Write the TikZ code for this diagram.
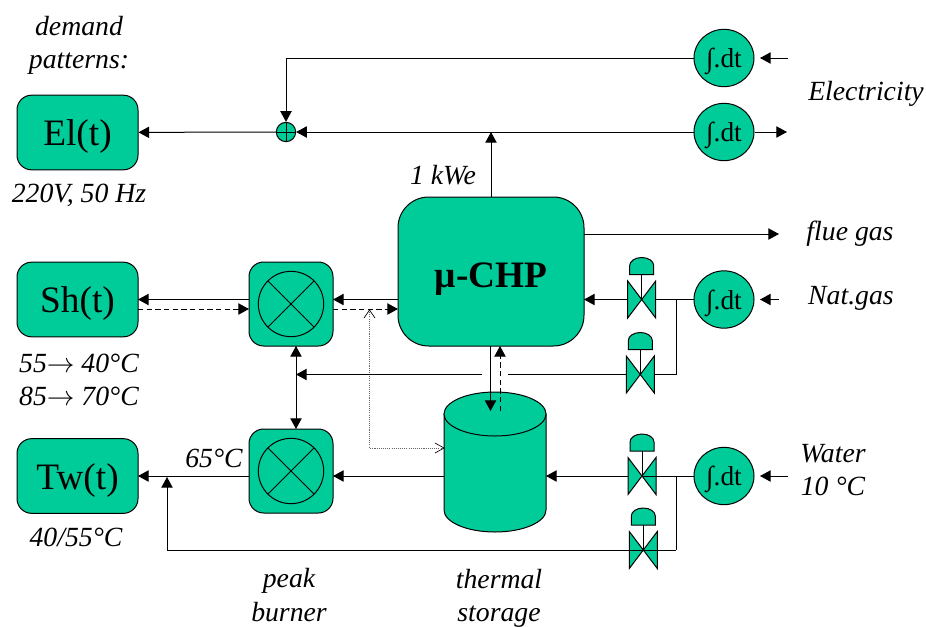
\documentclass[tikz,border=0pt]{standalone}
\usepackage{fontspec}
\setmainfont{Liberation Serif}
\usetikzlibrary{arrows.meta,shapes.geometric}
\definecolor{grn}{RGB}{0,204,153}
\tikzset{
  x=0.75pt,y=-0.75pt,
  wire/.style={draw=black,line width=0.75pt},
  arr/.style={-{Triangle[length=8pt,width=8.5pt]}},
  arrb/.style={{Triangle[length=8pt,width=8.5pt]}-{Triangle[length=8pt,width=8.5pt]}},
  dashline/.style={dash pattern=on 4pt off 2.5pt},
  dotline/.style={draw=black!60,line width=0.6pt,dash pattern=on 0.8pt off 0.8pt},
  barb/.style={draw=black,line width=0.5pt},
  box/.style={draw=black,line width=0.75pt,fill=grn,rounded corners=11pt,inner sep=0pt},
  integ/.style={draw=black,line width=0.75pt,fill=grn,ellipse,minimum width=45pt,minimum height=43pt,inner sep=0pt,text height=14.6pt,text depth=0pt,font=\fontsize{20.5}{22}\selectfont},
  lab/.style={font=\fontsize{20.8}{25}\selectfont\itshape,align=center,inner sep=0pt},
  big/.style={font=\fontsize{28}{32}\selectfont,text height=20pt,text depth=0pt},
}
\newcommand{\mixer}[2]{%
  \draw[wire] (#1,#2) circle[radius=24.5pt];
  \draw[wire] (#1,#2) ++(-17.3pt,-17.3pt) -- ++(34.6pt,34.6pt);
  \draw[wire] (#1,#2) ++(-17.3pt,17.3pt) -- ++(34.6pt,-34.6pt);
}
\newcommand{\valve}[2]{%
  \draw[wire] (#1,#2-26) -- (#1,#2);
  \draw[wire,fill=grn] (#1-12,#2-25) -- (#1+12,#2-25) -- (#1+12,#2-34) arc[start angle=0,end angle=180,x radius=9pt,y radius=6pt] -- cycle;
  \draw[wire,fill=grn] (#1-14,#2-18.5) -- (#1+14,#2+18.5) -- (#1+14,#2-18.5) -- (#1-14,#2+18.5) -- cycle;
}
\begin{document}
\begin{tikzpicture}
\useasboundingbox (0,0) rectangle (926,626);
% boxes
\node[box,big,minimum width=90.75pt,minimum height=56pt] (el) at (77.5,132.5) {El(t)};
\node[box,big,minimum width=90.75pt,minimum height=56pt] (sh) at (77.5,299.5) {Sh(t)};
\node[box,big,minimum width=90.75pt,minimum height=56pt] (tw) at (77.5,476) {Tw(t)};
\node[box,minimum width=63pt,minimum height=63pt] (m1) at (291,304) {};
\node[box,minimum width=63pt,minimum height=63pt] (m2) at (291,471) {};
\mixer{291}{304}
\mixer{291}{471}
\node[box,rounded corners=23pt,minimum width=139.5pt,minimum height=111.75pt] (chp) at (491,271.5) {};
\node[font=\fontsize{28}{30}\selectfont\bfseries] (chpt) at (491,279) {µ-CHP};
% integrators
\node[integ] (i1) at (724,58) {∫.dt};
\node[integ] (i2) at (724,132) {∫.dt};
\node[integ] (i3) at (724,299.5) {∫.dt};
\node[integ] (i4) at (724,476) {∫.dt};
% sum
\node[draw=black,line width=0.75pt,fill=grn,circle,minimum size=14.5pt,inner sep=0pt] (sum) at (286,132) {};
\draw[wire] (sum.north) -- (sum.south) (sum.west) -- (sum.east);
% cylinder
\draw[wire,fill=grn] (444,414) -- (444,510) arc[start angle=180,end angle=360,x radius=38.25pt,y radius=16.5pt] -- (546,414) -- cycle;
\draw[wire,fill=grn] (495,414) ellipse[x radius=38.25pt,y radius=16.5pt];
% helper coordinates
\coordinate (cyl) at (444,476);
\coordinate (cylr) at (546,476);
\coordinate (e1) at (788,58);
\coordinate (e1t) at (760,58);
\coordinate (e2) at (787,132);
\coordinate (g1) at (779,299.5);
\coordinate (g1t) at (760,299.5);
\coordinate (w1) at (788,476);
\coordinate (w1t) at (760,476);
\coordinate (fa) at (584,234);
\coordinate (fb) at (779,234);
\coordinate (ka) at (491,197);
\coordinate (kb) at (491,132);
\coordinate (shw) at (138,299.5);
\coordinate (shd) at (138,309);
\coordinate (m1w) at (249,299.5);
\coordinate (m1wd) at (249,309);
\coordinate (m1e) at (333,299.5);
\coordinate (m1ed) at (333,309);
\coordinate (chw) at (398,299.5);
\coordinate (chwd) at (398,309);
\coordinate (dt) at (369.5,310);
\coordinate (dc) at (369.5,448);
\coordinate (dr) at (444,448);
\coordinate (ma) at (296,346);
\coordinate (mb) at (296,429);
\coordinate (sa) at (490.5,346);
\coordinate (sb) at (490.5,411);
\coordinate (sc) at (500,411);
\coordinate (sd) at (500,346);
\coordinate (ra) at (482,374.5);
\coordinate (rb) at (296,374.5);
\coordinate (rc) at (508,374.5);
\coordinate (rd) at (640.3,374.5);
\coordinate (ja) at (676,299.5);
\coordinate (jb) at (676,374.5);
\coordinate (jc) at (676,476);
\coordinate (jd) at (676,550);
\coordinate (v1) at (641.7,299.5);
\coordinate (chr) at (584,299.5);
\coordinate (v3) at (642,476);
\coordinate (m2e) at (333,476);
\coordinate (m2w) at (249,476);
\coordinate (twe) at (138,476);
\coordinate (ta) at (167,550);
\coordinate (tb) at (167,477);
\coordinate (i1w) at (286,58);
% top
\draw[wire,arr] (e1) -- (e1t);
\draw[wire,arr] (i1) -- (i1w) -- (sum);
\draw[wire,arr] (i2) -- (sum);
\draw[wire,arr] (i2) -- (e2);
\draw[wire,arr] (sum) -- (el);
\draw[wire,arr] (ka) -- (kb);
% flue
\draw[wire,arr] (fa) -- (fb);
% Sh - m1
\draw[wire,arr] (m1w) -- (shw);
\draw[wire,arr,dashline] (shd) -- (m1wd);
\draw[wire,arr] (chw) -- (m1e);
\draw[wire,arr,dashline] (m1ed) -- (chwd);
% dotted
\draw[dotline] (dt) -- (dc) -- (dr);
\draw[barb] (364,318) -- (dt) -- (375,318);
\draw[barb] (435,443) -- (dr) -- (435,453);
\draw[wire,arrb] (ma) -- (mb);
% storage arrows
\draw[wire,arr] (sa) -- (sb);
\draw[wire,arr,dashline] (sc) -- (sd);
% return
\draw[wire,arr] (ra) -- (rb);
\draw[wire] (rc) -- (rd);
% valve lines
\draw[wire] (i3) -- (ja) -- (jb) -- (rd);
\draw[wire] (ja) -- (v1);
\draw[wire,arr] (v1) -- (chr);
\draw[wire,arr] (g1) -- (g1t);
\draw[wire,arr] (w1) -- (w1t);
\draw[wire] (i4) -- (jc) -- (jd);
\draw[wire,arr] (v3) -- (cylr);
\draw[wire,arr] (cyl) -- (m2e);
\draw[wire,arr] (m2w) -- (twe);
\valve{641.7}{299.5}
\valve{640.3}{374.5}
\valve{642}{476}
\valve{643.3}{550}
\draw[wire,arr] (jd) -- (ta) -- (tb);
\draw[wire] (jc) -- (v3);
% labels
\node[lab] (l1) at (79,45.5) {demand\\patterns:};
\node[lab] (l2) at (79,195) {220V, 50 Hz};
\node[lab] (l3) at (443,175) {1 kWe};
\node[lab] (l4) at (866,94) {Electricity};
\node[lab] (l5) at (850,234) {flue gas};
\node[lab] (l6) at (851,298) {Nat.gas};
\node[lab] (l7) at (833,470) {Water\\10 °C};
\node[lab] (l8) at (79,380) {55$\rightarrow$ 40°C\\85$\rightarrow$ 70°C};
\node[lab] (l9) at (214,458) {65°C};
\node[lab] (l10) at (76,537) {40/55°C};
\node[lab] (l11) at (289,595) {peak\\burner};
\node[lab] (l12) at (499,598) {thermal\\storage};
\end{tikzpicture}
\end{document}
